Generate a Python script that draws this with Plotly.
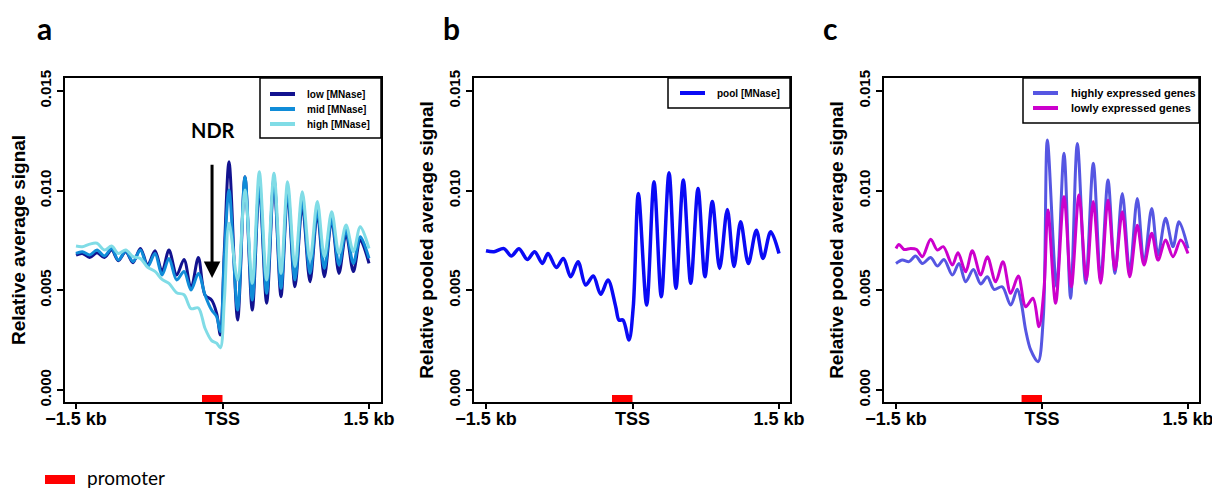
import plotly.graph_objects as go

# ---------------- data (bp relative to TSS, relative signal) ----------------
# panel a: MNase digestion levels
pos_a = [-1500, -1435, -1360, -1285, -1210, -1135, -1067, -991, -916, -841, -766, -691,
         -619, -548, -469, -394, -322, -247, -179, -111, -60, -22, 19, 67, 155, 230, 305,
         377, 452, 527, 599, 667, 742, 817, 896, 971, 1043, 1118, 1193, 1265, 1340, 1411, 1500]
low_mnase = [0.00677, 0.00685, 0.00665, 0.00689, 0.00665, 0.00702, 0.00649, 0.00694, 0.00639, 0.00710,
             0.00627, 0.00699, 0.00594, 0.00702, 0.00577, 0.00655, 0.00510, 0.00665, 0.00477, 0.00451,
             0.00385, 0.00276, 0.00702, 0.01145, 0.00351, 0.01070, 0.00401, 0.01020, 0.00435, 0.01053,
             0.00468, 0.00986, 0.00518, 0.00928, 0.00543, 0.00886, 0.00568, 0.00853, 0.00585, 0.00786,
             0.00594, 0.00752, 0.00635]
mid_mnase = [0.00685, 0.00694, 0.00677, 0.00702, 0.00672, 0.00710, 0.00652, 0.00697, 0.00644, 0.00702,
             0.00619, 0.00685, 0.00577, 0.00660, 0.00552, 0.00594, 0.00502, 0.00585, 0.00477, 0.00401,
             0.00368, 0.00293, 0.00669, 0.01003, 0.00401, 0.01070, 0.00451, 0.01037, 0.00485, 0.01062,
             0.00510, 0.01003, 0.00552, 0.00953, 0.00585, 0.00903, 0.00610, 0.00861, 0.00627, 0.00803,
             0.00635, 0.00769, 0.00660]
high_mnase = [0.00722, 0.00719, 0.00732, 0.00736, 0.00702, 0.00722, 0.00685, 0.00702, 0.00669, 0.00660,
              0.00615, 0.00595, 0.00555, 0.00535, 0.00488, 0.00478, 0.00408, 0.00412, 0.00310, 0.00248,
              0.00235, 0.00212, 0.00451, 0.00836, 0.00552, 0.01003, 0.00535, 0.01095, 0.00552, 0.01087,
              0.00585, 0.01045, 0.00619, 0.00995, 0.00652, 0.00945, 0.00669, 0.00894, 0.00685, 0.00828,
              0.00694, 0.00819, 0.00710]

# panel b: pooled MNase
pos_b = [-1500, -1418, -1316, -1241, -1162, -1077, -1002, -923, -865, -780, -708, -633, -558, -480,
         -401, -326, -251, -172, -138, -97, -36, 8, 60, 145, 220, 295, 374, 445, 520, 596, 671, 742,
         817, 892, 971, 1039, 1107, 1186, 1268, 1336, 1415, 1500]
pool_mnase = [0.00699, 0.00694, 0.00709, 0.00672, 0.00709, 0.00655, 0.00694, 0.00635, 0.00685, 0.00615,
              0.00660, 0.00568, 0.00644, 0.00527, 0.00572, 0.00480, 0.00552, 0.00418, 0.00351, 0.00351,
              0.00251, 0.00418, 0.00986, 0.00426, 0.01045, 0.00468, 0.01090, 0.00510, 0.01053, 0.00535,
              0.01011, 0.00568, 0.00945, 0.00610, 0.00906, 0.00619, 0.00844, 0.00635, 0.00802, 0.00660,
              0.00794, 0.00685]

# panel c: expression classes
pos_c_high = [-1500, -1435, -1366, -1298, -1229, -1144, -1075, -1007, -921, -853, -784, -705, -630,
              -562, -493, -408, -322, -254, -212, -168, -116, -41, 14, 55, 150, 226, 294, 363, 449,
              527, 603, 678, 750, 825, 901, 979, 1048, 1127, 1192, 1270, 1346, 1408, 1500]
highly_expressed = [0.00635, 0.00652, 0.00644, 0.00672, 0.00635, 0.00665, 0.00622, 0.00655, 0.00577, 0.00635,
                    0.00543, 0.00605, 0.00532, 0.00568, 0.00505, 0.00518, 0.00426, 0.00505, 0.00435, 0.00301,
                    0.00201, 0.00142, 0.00368, 0.01254, 0.00518, 0.01187, 0.00460, 0.01237, 0.00535, 0.01137,
                    0.00552, 0.01053, 0.00585, 0.00986, 0.00593, 0.00961, 0.00635, 0.00911, 0.00677, 0.00861,
                    0.00719, 0.00844, 0.00710]
pos_c_low = [-1500, -1469, -1418, -1349, -1288, -1229, -1144, -1075, -1014, -921, -863, -784, -716,
             -630, -562, -476, -401, -322, -243, -168, -93, -31, 20, 61, 140, 226, 301, 380, 455, 527,
             603, 678, 750, 825, 901, 979, 1048, 1127, 1192, 1270, 1346, 1425, 1500]
lowly_expressed = [0.00710, 0.00730, 0.00705, 0.00710, 0.00705, 0.00669, 0.00756, 0.00702, 0.00719, 0.00627,
                   0.00689, 0.00593, 0.00699, 0.00577, 0.00669, 0.00543, 0.00644, 0.00485, 0.00572, 0.00418,
                   0.00460, 0.00318, 0.00502, 0.00903, 0.00435, 0.00970, 0.00518, 0.00978, 0.00552, 0.00945,
                   0.00535, 0.00953, 0.00602, 0.00894, 0.00568, 0.00827, 0.00627, 0.00786, 0.00652, 0.00752,
                   0.00669, 0.00752, 0.00685]

x_tick_vals = [-1500, 0, 1500]
x_tick_text = ["\u22121.5 kb", "TSS", "1.5 kb"]
y_tick_vals = [0.0, 0.005, 0.010, 0.015]
y_tick_text = ["0.000", "0.005", "0.010", "0.015"]
promoter = [-210, 0]
panel_letters = ["a", "b", "c"]
y_titles = ["Relative average signal", "Relative pooled average signal", "Relative pooled average signal"]

# ---------------- figure ----------------
# page body has an 8px margin, so the figure is 8px smaller and positions are shifted by 8px
OFF = 8
W, H = 1220 - OFF, 488 - OFF
SANS = "Liberation Sans, Arial, sans-serif"
CAL = "Lato, Carlito, Calibri, sans-serif"

def fx(p):
    return (p - OFF) / W

def fy(p):
    return 1 - (p - OFF) / H

series = [
    # (panel, x, y, name, colour, width)
    (0, pos_a, low_mnase, "low [MNase]", "#12128f", 3),
    (0, pos_a, mid_mnase, "mid [MNase]", "#108cd8", 3),
    (0, pos_a, high_mnase, "high [MNase]", "#80dce6", 3),
    (1, pos_b, pool_mnase, "pool [MNase]", "#0a0af5", 3.5),
    (2, pos_c_high, highly_expressed, "highly expressed genes", "#5656e2", 3),
    (2, pos_c_low, lowly_expressed, "lowly expressed genes", "#cc00cc", 3),
]

fig = go.Figure()
for p, xs, ys, name, col, w in series:
    sfx = "" if p == 0 else str(p + 1)
    fig.add_trace(go.Scatter(x=xs, y=ys, name=name, mode="lines", showlegend=False,
                             line=dict(color=col, width=w, shape="spline", smoothing=0.9),
                             xaxis="x" + sfx, yaxis="y" + sfx))

boxes = [(65, 381, -1612.6, 1622.9), (474, 790, -1622.9, 1612.6), (884, 1199, -1623.3, 1613.0)]
ydom = [fy(402), fy(78)]
yrange = [-0.0006, 0.01565]
layout = dict(width=W, height=H, margin=dict(l=0, r=0, t=0, b=0, autoexpand=False),
              paper_bgcolor="white", plot_bgcolor="white", showlegend=False)
shapes = []
annotations = []
for i, (l, r, x0, x1) in enumerate(boxes):
    sfx = "" if i == 0 else str(i + 1)
    layout["xaxis" + sfx] = dict(domain=[fx(l), fx(r)], range=[x0, x1], anchor="y" + sfx,
                                 automargin=False, ticklabelstandoff=-5,
                                 tickvals=x_tick_vals, ticktext=x_tick_text, ticks="outside",
                                 ticklen=5, tickwidth=1.5, tickcolor="black", showline=True, mirror=True,
                                 linecolor="black", linewidth=1.5, showgrid=False, zeroline=False,
                                 tickfont=dict(family=SANS, size=18, color="black", weight="bold"))
    layout["yaxis" + sfx] = dict(domain=ydom, range=yrange, anchor="x" + sfx,
                                 automargin=False,
                                 tickvals=y_tick_vals, ticktext=y_tick_text, tickangle=-90,
                                 ticks="outside", ticklen=6, tickwidth=1.5, tickcolor="black",
                                 showline=True, mirror=True, linecolor="black", linewidth=1.5,
                                 showgrid=False, zeroline=False,
                                 tickfont=dict(family=SANS, size=15, color="black", weight="bold"),
                                 title=dict(text=y_titles[i], standoff=8,
                                            font=dict(family=SANS, size=19, color="black", weight="bold")))
    shapes.append(dict(type="rect", xref="x" + sfx, yref="y" + sfx, x0=promoter[0], x1=promoter[1],
                       y0=-0.0006, y1=-0.00025, fillcolor="#ff0000", line=dict(width=0), layer="above"))

# legend boxes drawn in the style of the original (box, line key, label)
legend_boxes = [
    # (panel, left, top, bottom, key_x0, key_x1, text_x, row_y list, font size)
    (0, 260, 78, 138, 270, 295, 305, [94, 109, 124], 10),
    (1, 668, 78, 108, 680, 705, 715, [93], 10),
    (2, 1023, 78, 123, 1033, 1058, 1069, [93, 108], 11),
]
right_edges = [381, 790, 1199]
for p, left, top, bottom, kx0, kx1, tx, rows, fs in legend_boxes:
    shapes.append(dict(type="rect", xref="paper", yref="paper", x0=fx(left), x1=fx(right_edges[p]),
                       y0=fy(bottom), y1=fy(top), fillcolor="white",
                       line=dict(color="black", width=1.5), layer="above"))
    entries = [s for s in series if s[0] == p]
    for (pp, xs, ys, name, col, w), ry in zip(entries, rows):
        shapes.append(dict(type="line", xref="paper", yref="paper", x0=fx(kx0), x1=fx(kx1),
                           y0=fy(ry), y1=fy(ry), line=dict(color=col, width=4), layer="above"))
        annotations.append(dict(text=name, xref="paper", yref="paper", x=fx(tx), y=fy(ry),
                                xanchor="left", yanchor="middle", showarrow=False,
                                font=dict(family=SANS, size=fs, color="black", weight="bold")))

for letter, xp in zip(panel_letters, [44, 451, 830]):
    annotations.append(dict(text=letter, xref="paper", yref="paper", x=fx(xp), y=fy(28),
                            xanchor="center", yanchor="middle", showarrow=False,
                            font=dict(family=CAL, size=30, color="black", weight="bold")))

annotations.append(dict(text="NDR", xref="paper", yref="paper", x=fx(213), y=fy(130),
                        xanchor="center", yanchor="middle", showarrow=False,
                        font=dict(family=CAL, size=20, color="black", weight="bold")))
annotations.append(dict(text="", x=-107, y=0.00562, xref="x", yref="y", ax=-107, ay=0.01138,
                        axref="x", ayref="y", showarrow=True, arrowhead=2, arrowsize=1.1,
                        arrowwidth=3, arrowcolor="black"))

shapes.append(dict(type="rect", xref="paper", yref="paper", x0=fx(45), x1=fx(75), y0=fy(484), y1=fy(475),
                   fillcolor="#ff0000", line=dict(width=0)))
annotations.append(dict(text="promoter", xref="paper", yref="paper", x=fx(85), y=fy(477),
                        xanchor="left", yanchor="middle", showarrow=False,
                        font=dict(family=CAL, size=19, color="black")))

layout["shapes"] = shapes
layout["annotations"] = annotations
fig.update_layout(**layout)
fig.write_html("out.html")
